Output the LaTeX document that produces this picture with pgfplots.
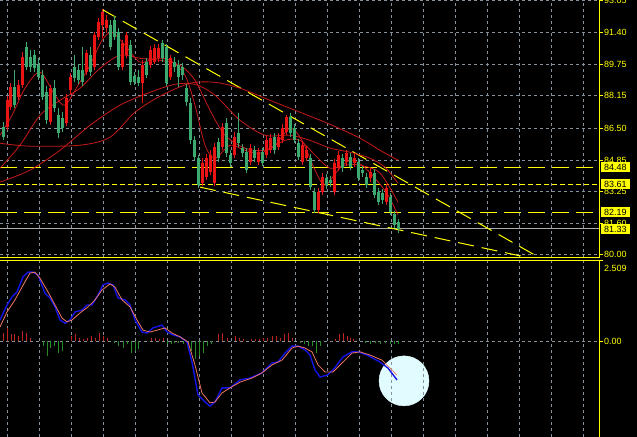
\documentclass[border=0pt]{standalone}
\usepackage{fontspec}
\setmainfont{Liberation Sans}
\usepackage{pgfplots}
\usepackage{pgfplotstable}
\pgfplotsset{compat=1.18}
\definecolor{cred}{RGB}{235,20,20}
\definecolor{cgreen}{RGB}{60,170,110}
\definecolor{mared}{RGB}{200,25,25}
\definecolor{gridc}{RGB}{135,145,155}
\definecolor{hred}{RGB}{190,35,35}
\definecolor{hgreen}{RGB}{40,140,40}
\definecolor{macdblue}{RGB}{20,20,230}
\definecolor{sigc}{RGB}{240,120,100}
\definecolor{circ}{RGB}{225,252,255}
\definecolor{ylw}{RGB}{255,255,0}
\definecolor{bidc}{RGB}{170,170,170}

% candles: x  low  high  body-low  body-high
\pgfplotstableread{
x lo hi bl bh
7 86.39 88.13 86.54 87.92
10 87.41 88.79 87.56 88.59
18 87.92 88.95 88.08 88.69
22 88.54 90.38 88.69 90.12
50 86.64 88.69 86.80 88.54
66 86.59 88.23 86.75 88.02
70 88.23 89.30 88.43 89.10
86 89.20 90.48 89.36 90.33
94 89.46 91.40 89.61 91.25
98 90.99 92.12 91.15 91.91
102 91.10 92.58 91.76 92.43
106 91.35 92.27 91.61 92.02
122 89.46 90.99 89.61 90.84
126 90.07 91.40 90.23 91.25
142 87.77 89.97 88.79 89.71
150 89.56 90.69 89.71 90.48
154 89.76 90.79 89.87 90.58
158 89.87 90.79 90.07 90.58
170 88.95 90.23 89.10 90.07
202 83.52 84.95 83.67 84.70
206 83.83 85.16 83.98 84.95
210 84.08 85.36 84.24 85.11
214 83.52 85.72 83.67 85.52
222 85.36 86.75 85.52 86.54
234 84.95 86.28 85.11 86.03
250 84.60 85.67 84.75 85.47
258 84.60 85.47 84.75 85.26
266 84.95 86.08 85.11 85.87
270 85.21 86.18 85.36 85.98
278 85.36 86.23 85.52 86.03
282 85.72 86.69 85.87 86.49
286 86.13 87.15 86.28 87.05
302 84.60 85.82 84.75 85.62
306 84.80 85.57 84.95 85.36
318 82.14 83.42 82.29 83.21
322 83.06 84.19 83.21 83.98
334 83.06 84.90 83.21 84.70
338 84.29 85.31 84.44 85.11
346 84.54 85.36 84.75 85.21
354 84.49 85.16 84.70 84.95
370 83.73 84.44 83.93 84.24
386 82.55 83.62 82.70 83.42
}\candR
\pgfplotstableread{
x lo hi bl bh
3 85.87 86.80 86.03 86.54
14 87.51 89.46 87.67 88.59
26 89.46 90.89 89.61 90.63
30 89.36 90.48 89.61 90.12
34 89.36 90.48 89.56 90.23
38 88.95 90.07 89.10 89.71
42 87.92 89.46 88.08 89.20
46 86.69 88.64 86.90 88.33
54 87.31 88.95 87.51 88.54
58 85.98 87.51 86.23 87.15
62 86.28 87.31 86.49 87.00
74 88.84 90.23 89.05 89.61
78 88.74 89.76 88.95 89.46
82 88.64 90.63 88.84 89.46
90 89.15 90.63 89.36 90.23
110 90.48 92.02 90.63 91.76
114 90.99 92.22 91.15 92.02
118 89.46 91.61 89.61 91.40
130 88.69 90.99 88.84 90.74
134 88.69 89.36 88.84 89.15
138 88.64 89.46 88.79 89.10
146 89.05 90.07 89.20 89.87
162 89.87 90.99 90.07 90.84
166 88.64 90.79 88.79 90.63
174 89.36 90.12 89.61 89.87
178 88.59 89.97 89.10 89.71
182 88.95 89.82 89.20 89.61
186 87.62 88.74 87.82 88.54
190 85.67 88.02 85.87 87.77
194 84.85 86.08 85.01 85.87
198 83.42 85.11 83.57 84.95
218 84.75 85.98 84.95 85.77
226 85.01 87.00 85.21 86.75
230 84.49 85.36 84.70 85.11
238 85.52 87.26 85.72 86.23
242 85.01 85.67 85.21 85.47
246 84.19 85.47 84.34 85.26
254 84.75 85.57 84.95 85.36
262 84.54 85.47 84.70 85.26
274 85.16 86.23 85.36 86.03
290 86.03 87.26 86.23 87.05
294 85.72 86.69 85.87 86.49
298 84.85 85.93 85.01 85.72
310 83.32 85.16 83.47 84.95
314 82.14 83.42 82.29 83.21
326 83.37 84.13 83.57 83.93
330 83.47 84.03 83.67 83.83
342 84.24 85.16 84.44 84.95
350 84.34 85.21 84.49 85.01
358 83.78 84.95 83.93 84.75
362 83.98 84.54 84.19 84.34
366 83.42 84.19 83.57 83.98
374 82.91 84.39 83.06 84.19
378 82.55 83.42 82.70 83.21
382 82.60 83.37 82.80 83.16
390 82.04 83.16 82.19 82.96
394 81.37 82.24 81.53 82.04
398 81.11 81.83 81.33 81.63
}\candG

\begin{document}
\begin{tikzpicture}
\fill[black] (0,0) rectangle (637bp,437bp);

\begin{axis}[
  at={(0bp,179bp)}, anchor=south west,
  scale only axis, width=599bp, height=258bp,
  xmin=0, xmax=599, ymin=79.84, ymax=93.06,
  axis x line*=bottom, axis y line*=right,
  axis line style={ylw, line width=1bp, -},
  xtick={7,39,...,583}, xticklabels={},
  x tick style={draw=none},
  ytick={80.00,81.60,83.25,84.85,86.50,88.15,89.75,91.40,93.05},
  yticklabels={80.00,81.60,83.25,84.85,86.50,88.15,89.75,91.40,93.05},
  grid=major,
  major grid style={gridc, dash pattern=on 3bp off 3bp, line width=0.8bp},
  y tick style={ylw, line width=1bp},
  major tick length=4bp, tick align=outside,
  yticklabel style={text=ylw, font=\fontsize{9}{10}\selectfont, inner xsep=1bp},
]
% levels
\addplot[ylw, line width=1bp, dash pattern=on 17bp off 7bp] coordinates {(0,84.48) (599,84.48)};
\addplot[ylw, line width=1bp, dash pattern=on 5bp off 3bp] coordinates {(0,83.61) (599,83.61)};
\addplot[ylw, line width=1bp, dash pattern=on 17bp off 7bp] coordinates {(0,82.19) (599,82.19)};
\addplot[bidc, line width=1bp] coordinates {(0,81.33) (599,81.33)};
% trend lines
\addplot[ylw, line width=1bp, dash pattern=on 16bp off 8bp] coordinates {(102,92.58) (540,79.84)};
\addplot[ylw, line width=1bp, dash pattern=on 16bp off 8bp] coordinates {(200,83.47) (530,79.84)};
% moving averages
\addplot[mared, line width=0.8bp, smooth, tension=0.5] coordinates {
(0,85.72) (30,85.57) (80,85.62) (110,86.03) (135,87.31) (160,88.13) (190,88.79) (215,88.84) (240,88.54) (270,87.92) (300,87.31) (330,86.69) (360,85.98) (380,85.36) (398,84.85)};
\addplot[mared, line width=0.8bp, smooth, tension=0.5] coordinates {
(0,83.73) (30,84.34) (60,85.36) (90,86.64) (120,87.67) (150,88.33) (175,88.74) (195,88.74) (215,88.18) (240,86.90) (265,86.13) (290,86.13) (310,85.87) (330,85.47) (350,85.26) (370,84.95) (385,84.49) (398,83.67)};
\addplot[mared, line width=0.8bp, smooth, tension=0.5] coordinates {
(0,84.44) (20,85.62) (40,87.15) (60,87.92) (80,88.54) (100,89.56) (120,90.23) (140,90.07) (160,89.97) (180,89.71) (195,88.95) (210,87.41) (225,86.13) (245,85.47) (265,85.36) (285,85.87) (300,85.87) (315,85.11) (330,84.44) (345,84.60) (360,84.60) (380,84.19) (398,82.70)};
\addplot[mared, line width=0.8bp, smooth, tension=0.5] coordinates {
(0,86.13) (12,87.15) (25,88.54) (40,89.36) (55,88.18) (65,87.67) (78,88.69) (90,89.71) (102,90.99) (112,91.40) (125,90.74) (140,89.87) (155,90.07) (170,89.97) (185,89.20) (195,87.67) (205,85.62) (215,84.95) (230,85.62) (245,85.36) (260,85.21) (275,85.62) (290,86.49) (302,85.87) (315,84.34) (325,83.57) (338,84.34) (350,84.85) (362,84.60) (375,83.93) (388,83.06) (398,82.04)};
% candles: wicks and bodies
\addplot[draw=none, mark=none, forget plot, error bars/.cd, y dir=plus, y explicit, error mark=none,
  error bar style={draw=cred, line width=1bp}]
  table[x=x, y=lo, y error expr=\thisrow{hi}-\thisrow{lo}] {\candR};
\addplot[draw=none, mark=none, forget plot, error bars/.cd, y dir=plus, y explicit, error mark=none,
  error bar style={draw=cred, line width=3bp}]
  table[x=x, y=bl, y error expr=\thisrow{bh}-\thisrow{bl}+0.03] {\candR};
\addplot[draw=none, mark=none, forget plot, error bars/.cd, y dir=plus, y explicit, error mark=none,
  error bar style={draw=cgreen, line width=1bp}]
  table[x=x, y=lo, y error expr=\thisrow{hi}-\thisrow{lo}] {\candG};
\addplot[draw=none, mark=none, forget plot, error bars/.cd, y dir=plus, y explicit, error mark=none,
  error bar style={draw=cgreen, line width=3bp}]
  table[x=x, y=bl, y error expr=\thisrow{bh}-\thisrow{bl}+0.03] {\candG};
\coordinate (l1) at (axis cs:599,84.48);
\coordinate (l2) at (axis cs:599,83.61);
\coordinate (l3) at (axis cs:599,82.19);
\coordinate (l4) at (axis cs:599,81.33);
\end{axis}

% marker circle behind the MACD grid
\begin{axis}[
  at={(0bp,0bp)}, anchor=south west,
  scale only axis, width=599bp, height=176bp,
  xmin=0, xmax=599, ymin=-3.01, ymax=2.509,
  hide axis,
]
\addplot[only marks, mark=*, mark size=25bp, mark options={draw=circ, fill=circ}] coordinates {(404,-1.25)};
\end{axis}

\begin{axis}[
  at={(0bp,0bp)}, anchor=south west,
  scale only axis, width=599bp, height=176bp,
  xmin=0, xmax=599, ymin=-3.01, ymax=2.509,
  axis x line*=top, axis y line*=right,
  axis line style={ylw, line width=1bp, -},
  xtick={7,39,...,583}, xticklabels={},
  x tick style={draw=none},
  ytick={0}, yticklabels={0.00},
  extra y ticks={2.509}, extra y tick labels={2.509},
  extra y tick style={grid=none, yticklabel style={yshift=-7bp}},
  grid=major,
  major grid style={gridc, dash pattern=on 3bp off 3bp, line width=0.8bp},
  y tick style={ylw, line width=1bp},
  major tick length=4bp, tick align=outside,
  yticklabel style={text=ylw, font=\fontsize{9}{10}\selectfont, inner xsep=1bp},
]
\addplot[hred, ycomb, line width=1bp, mark=none] coordinates {
(3,0.25) (7,0.41) (11,0.22) (14,0.22) (18,0.16) (22,0.31) (26,0.25) (30,0.09)
(71,0.16) (75,0.22) (79,0.09) (83,0.06) (87,0.09) (91,0.16) (95,0.09) (99,0.25) (103,0.16) (107,0.09)
(151,0.09) (155,0.09) (159,0.06) (163,0.09)
(218,0.22) (222,0.25) (227,0.09) (235,0.16) (239,0.09) (243,0.06) (251,0.06) (255,0.06) (259,0.06) (263,0.09) (267,0.09) (272,0.16) (276,0.16) (280,0.09) (284,0.22) (288,0.25) (292,0.09)
(335,0.06) (339,0.22) (343,0.25) (347,0.16) (350,0.09) (353,0.06)};
\addplot[hgreen, ycomb, line width=1bp, mark=none] coordinates {
(43,-0.16) (47,-0.47) (50,-0.22) (54,-0.16) (58,-0.38) (62,-0.31)
(114,-0.06) (118,-0.16) (123,-0.22) (127,-0.09) (131,-0.38) (135,-0.31) (138,-0.25)
(167,-0.09) (171,-0.09) (174,-0.06) (178,-0.06) (183,-0.09)
(187,-0.16) (191,-0.31) (195,-0.56) (199,-0.47) (203,-0.38) (207,-0.16) (211,-0.09)
(300,-0.06) (304,-0.09) (308,-0.16) (312,-0.16) (316,-0.38) (320,-0.16)
(365,-0.06) (370,-0.09) (375,-0.06) (380,-0.09) (385,-0.06) (390,-0.09) (394,-0.09) (398,-0.09)};
\addplot[macdblue, line width=1.4bp, mark=none] coordinates {
(0,0.66) (7,1.13) (12,1.38) (17,1.54) (23,2.01) (28,2.16) (33,2.16) (38,2.07) (45,1.50) (50,1.35) (55,1.07) (60,0.66) (65,0.56) (70,0.66) (75,0.91) (82,0.97) (87,1.13) (92,1.13) (98,1.44) (103,1.76) (108,1.82) (113,1.76) (118,1.35) (125,1.29) (130,1.13) (135,0.66) (142,0.28) (147,0.25) (153,0.41) (162,0.50) (167,0.28) (173,0.19) (180,0.13) (187,-0.03) (192,-0.66) (198,-1.69) (205,-1.91) (210,-2.04) (215,-1.91) (222,-1.47) (230,-1.47) (240,-1.22) (250,-1.16) (262,-1.00) (272,-0.69) (278,-0.66) (285,-0.38) (292,-0.16) (298,-0.16) (305,-0.28) (310,-0.44) (315,-0.91) (320,-1.13) (327,-1.07) (333,-0.91) (343,-0.50) (352,-0.34) (358,-0.34) (367,-0.44) (380,-0.66) (388,-0.85) (397,-1.22)};
\addplot[sigc, line width=0.8bp, mark=none] coordinates {
(0,0.44) (7,0.91) (15,1.29) (22,1.69) (30,2.13) (35,2.16) (40,1.97) (48,1.54) (55,1.13) (62,0.72) (67,0.60) (72,0.66) (80,0.88) (88,1.07) (95,1.29) (102,1.60) (110,1.79) (115,1.69) (122,1.29) (130,1.07) (137,0.66) (143,0.34) (150,0.28) (157,0.34) (165,0.41) (172,0.25) (180,0.13) (188,-0.03) (195,-0.75) (202,-1.63) (210,-1.94) (215,-1.91) (222,-1.63) (230,-1.47) (240,-1.29) (252,-1.16) (262,-1.00) (272,-0.75) (282,-0.60) (292,-0.22) (298,-0.16) (305,-0.22) (312,-0.34) (318,-0.75) (325,-0.97) (333,-0.97) (343,-0.66) (352,-0.38) (360,-0.34) (370,-0.44) (382,-0.60) (390,-0.85) (397,-1.07)};
\end{axis}

\foreach \c/\t in {l1/84.48, l2/83.61, l3/82.19, l4/81.33}{
  \node[fill=ylw, text=black, anchor=west, inner xsep=3bp, inner ysep=0pt,
        minimum height=10bp, font=\fontsize{9}{10}\selectfont] at ([xshift=2bp]\c) {\t};
}
\pgfresetboundingbox
\useasboundingbox (0,0) rectangle (637bp,437bp);
\end{tikzpicture}
\end{document}
